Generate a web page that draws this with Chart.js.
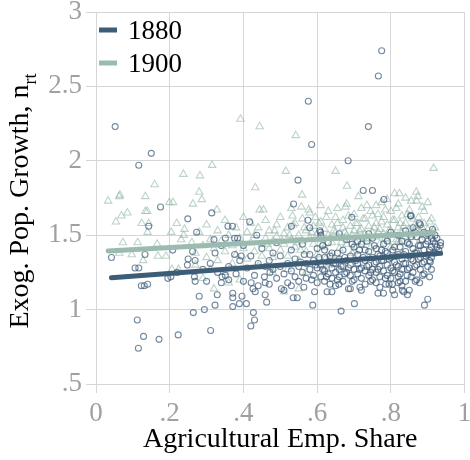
<!DOCTYPE html>
<html lang="en">
<head>
<meta charset="UTF-8">
<title>Exog. Pop. Growth vs Agricultural Emp. Share</title>
<script src="https://cdn.jsdelivr.net/npm/chart.js"></script>
<style>
  body { margin: 0; padding: 0; background: #fff; }
  canvas { display: block; }
</style>
</head>
<body>
<canvas id="growthChart" width="470" height="460"></canvas>
<script>
// series names and axis ticks
const years = ['1880', '1900'];
const xTicks = [0, 0.2, 0.4, 0.6, 0.8, 1];
const yTicks = [0.5, 1, 1.5, 2, 2.5, 3];

// 1880 observations (agri share, growth)
const pts1880 = [
  [0.052,2.23],[0.150,2.05],[0.116,1.97],[0.576,2.40],[0.585,2.11],[0.739,2.23],[0.684,2.00],[0.548,1.87],
  [0.725,1.80],[0.750,1.80],[0.775,2.74],[0.766,2.57],[0.781,1.74],[0.536,1.71],[0.853,1.63],[0.694,1.62],
  [0.175,1.69],[0.249,1.61],[0.314,1.65],[0.143,1.56],[0.273,1.52],[0.358,1.56],[0.417,1.59],[0.436,1.50],
  [0.320,1.47],[0.351,1.48],[0.376,1.48],[0.384,1.48],[0.042,1.35],[0.133,1.37],[0.106,1.28],[0.116,1.28],
  [0.123,1.16],[0.131,1.16],[0.140,1.17],[0.195,1.21],[0.203,1.22],[0.208,1.40],[0.248,1.30],[0.262,1.39],
  [0.269,1.33],[0.323,1.38],[0.376,1.37],[0.394,1.36],[0.269,1.19],[0.267,1.22],[0.342,1.22],[0.351,1.23],
  [0.360,1.20],[0.340,1.18],[0.421,1.18],[0.457,1.22],[0.459,1.18],[0.472,1.25],[0.280,1.09],[0.329,1.10],
  [0.371,1.11],[0.396,1.09],[0.371,1.08],[0.426,1.14],[0.432,1.12],[0.459,1.10],[0.463,1.05],[0.264,0.98],
  [0.294,1.00],[0.323,1.03],[0.371,1.02],[0.389,1.04],[0.408,1.04],[0.427,0.98],[0.430,0.93],[0.420,0.89],
  [0.311,0.86],[0.223,0.83],[0.171,0.80],[0.129,0.82],[0.112,0.93],[0.115,0.74],[0.588,1.03],[0.665,0.99],
  [0.701,1.04],[0.535,1.08],[0.546,1.08],[0.593,1.12],[0.627,1.12],[0.685,1.14],[0.716,1.15],[0.564,1.15],
  [0.659,1.17],[0.503,1.14],[0.786,1.17],[0.831,1.13],[0.835,1.12],[0.804,1.17],[0.820,1.18],[0.866,1.19],
  [0.844,1.23],[0.900,1.07],[0.891,1.03],[0.878,1.18],[0.886,1.23],[0.907,1.32],[0.934,1.43],[0.913,1.54],
  [0.877,1.58],[0.855,1.63],[0.609,1.52],[0.580,1.55],[0.530,1.56],[0.575,1.60],[0.607,1.53],
  [0.47,1.33],[0.48,1.27],[0.49,1.21],[0.50,1.36],[0.50,1.29],[0.51,1.24],[0.52,1.18],[0.52,1.31],
  [0.53,1.40],[0.53,1.26],[0.54,1.22],[0.54,1.34],[0.55,1.29],[0.55,1.19],[0.56,1.44],[0.56,1.25],
  [0.57,1.31],[0.57,1.21],[0.58,1.37],[0.58,1.27],[0.59,1.23],[0.59,1.33],[0.60,1.28],[0.60,1.18],
  [0.60,1.41],[0.49,1.45],[0.51,1.13],[0.53,1.16],[0.47,1.17],[0.48,1.38],
  [0.61,1.30],[0.61,1.22],[0.62,1.35],[0.62,1.26],[0.62,1.19],[0.63,1.32],[0.63,1.24],[0.63,1.45],
  [0.64,1.28],[0.64,1.21],[0.64,1.38],[0.65,1.31],[0.65,1.25],[0.65,1.16],[0.66,1.34],[0.66,1.27],
  [0.66,1.22],[0.67,1.29],[0.67,1.40],[0.67,1.19],[0.68,1.33],[0.68,1.25],[0.68,1.47],[0.69,1.30],
  [0.69,1.23],[0.69,1.36],[0.70,1.27],[0.70,1.20],[0.70,1.42],[0.61,1.50],[0.64,1.12],[0.66,1.51],
  [0.69,1.14],[0.62,1.40],
  [0.71,1.31],[0.71,1.24],[0.71,1.37],[0.72,1.28],[0.72,1.21],[0.72,1.44],[0.73,1.33],[0.73,1.26],
  [0.73,1.17],[0.74,1.30],[0.74,1.23],[0.74,1.39],[0.75,1.35],[0.75,1.27],[0.75,1.20],[0.75,1.48],
  [0.76,1.32],[0.76,1.25],[0.76,1.41],[0.77,1.29],[0.77,1.22],[0.77,1.36],[0.77,1.15],[0.78,1.33],
  [0.78,1.26],[0.78,1.44],[0.79,1.30],[0.79,1.23],[0.79,1.38],[0.80,1.35],[0.80,1.28],[0.80,1.21],
  [0.80,1.52],[0.72,1.13],[0.74,1.51],[0.76,1.18],[0.78,1.11],[0.79,1.46],[0.71,1.46],[0.73,1.40],
  [0.81,1.32],[0.81,1.25],[0.81,1.42],[0.82,1.37],[0.82,1.29],[0.82,1.22],[0.83,1.34],[0.83,1.27],
  [0.83,1.46],[0.84,1.31],[0.84,1.39],[0.84,1.19],[0.85,1.36],[0.85,1.28],[0.85,1.44],[0.86,1.33],
  [0.86,1.41],[0.86,1.25],[0.87,1.38],[0.87,1.30],[0.87,1.49],[0.88,1.35],[0.88,1.43],[0.88,1.27],
  [0.89,1.40],[0.89,1.32],[0.89,1.52],[0.90,1.37],[0.90,1.46],[0.90,1.29],[0.91,1.42],[0.91,1.35],
  [0.92,1.44],[0.92,1.38],[0.93,1.40],[0.82,1.50],[0.84,1.53],[0.86,1.55],[0.88,1.57],[0.90,1.51],
  [0.91,1.48],[0.92,1.50],[0.87,1.20],[0.83,1.16],[0.85,1.13],[0.81,1.10],[0.89,1.24],[0.91,1.27],
  [0.22,1.25],[0.25,1.34],[0.29,1.27],[0.30,1.19],[0.31,1.31],[0.33,1.25],[0.34,1.43],[0.36,1.29],
  [0.38,1.24],[0.39,1.33],[0.40,1.19],[0.40,1.43],[0.41,1.28],[0.42,1.36],[0.43,1.23],[0.44,1.31],
  [0.44,1.16],[0.45,1.41],[0.46,1.29],[0.37,1.56],
  [0.555,1.32],[0.565,1.37],[0.585,1.20],[0.595,1.30],[0.605,1.35],[0.615,1.27],[0.625,1.22],[0.635,1.36],
  [0.645,1.31],[0.655,1.20],[0.665,1.29],[0.675,1.35],[0.685,1.28],[0.695,1.19],[0.705,1.33],[0.715,1.27],
  [0.725,1.35],[0.735,1.29],[0.745,1.19],[0.755,1.31],[0.765,1.37],[0.765,1.27],[0.775,1.33],[0.785,1.21],
  [0.785,1.39],[0.795,1.34],[0.805,1.26],[0.805,1.40],[0.815,1.30],[0.815,1.36],[0.825,1.24],[0.825,1.42],
  [0.835,1.31],[0.835,1.37],[0.845,1.27],[0.845,1.45],[0.855,1.34],[0.855,1.22],[0.865,1.38],[0.865,1.29],
  [0.875,1.43],[0.875,1.34],[0.885,1.31],[0.885,1.47],[0.895,1.36],[0.895,1.44],[0.905,1.40],[0.905,1.33],
  [0.915,1.46],[0.915,1.38],[0.925,1.42],[0.775,1.40],[0.755,1.43],[0.735,1.46],[0.715,1.40],[0.695,1.44],
  [0.675,1.24],[0.655,1.38],[0.635,1.17],[0.615,1.43],[0.745,1.25],[0.795,1.17],[0.825,1.19],[0.855,1.49],
  [0.905,1.22],[0.925,1.48],[0.935,1.45],[0.865,1.52],[0.845,1.10],[0.805,1.13],[0.765,1.11]
];

// 1900 observations (agri share, growth)
const pts1900 = [
  [0.392,2.28],[0.444,2.23],[0.542,2.17],[0.515,1.93],[0.650,1.93],[0.681,1.83],[0.559,1.77],[0.712,1.76],
  [0.916,1.95],[0.823,1.78],[0.869,1.79],[0.873,1.76],[0.900,1.72],[0.609,1.70],[0.677,1.69],[0.577,1.67],
  [0.557,1.69],[0.533,1.63],[0.315,1.97],[0.282,1.90],[0.280,1.79],[0.287,1.74],[0.263,1.71],[0.328,1.67],
  [0.432,1.82],[0.444,1.67],[0.454,1.67],[0.219,1.58],[0.159,1.84],[0.065,1.77],[0.134,1.76],[0.237,1.91],
  [0.033,1.73],[0.063,1.76],[0.199,1.72],[0.209,1.72],[0.085,1.65],[0.069,1.63],[0.054,1.59],[0.134,1.66],
  [0.139,1.66],[0.124,1.58],[0.143,1.58],[0.140,1.52],[0.240,1.54],[0.204,1.52],[0.073,1.45],[0.113,1.45],
  [0.166,1.44],[0.097,1.37],[0.063,1.38],[0.168,1.36],[0.190,1.36],[0.128,1.33],[0.231,1.47],[0.238,1.50],
  [0.224,1.27],[0.206,1.27],
  [0.26,1.45],[0.27,1.38],[0.28,1.52],[0.29,1.43],[0.30,1.35],[0.30,1.57],[0.31,1.47],[0.32,1.41],
  [0.33,1.53],[0.33,1.33],[0.34,1.46],[0.35,1.39],[0.35,1.60],[0.36,1.50],[0.37,1.43],[0.37,1.31],
  [0.38,1.55],[0.38,1.37],[0.39,1.48],[0.40,1.41],[0.40,1.62],[0.41,1.52],[0.41,1.34],[0.42,1.45],
  [0.42,1.58],[0.43,1.39],[0.43,1.50],[0.44,1.29],[0.44,1.55],[0.45,1.44],[0.45,1.36],[0.46,1.60],
  [0.46,1.48],[0.29,1.21],[0.32,1.14],[0.36,1.18],[0.39,1.20],[0.31,1.27],[0.35,1.25],[0.27,1.30],
  [0.47,1.41],[0.47,1.53],[0.48,1.46],[0.48,1.35],[0.49,1.57],[0.49,1.49],[0.50,1.40],[0.50,1.62],
  [0.51,1.51],[0.51,1.44],[0.51,1.12],[0.52,1.36],[0.52,1.55],[0.53,1.47],[0.53,1.68],[0.54,1.42],
  [0.54,1.58],[0.55,1.50],[0.55,1.33],[0.55,1.14],[0.56,1.46],[0.56,1.61],[0.57,1.53],[0.57,1.39],
  [0.58,1.48],[0.58,1.65],[0.59,1.44],[0.59,1.56],[0.60,1.51],[0.60,1.37],[0.48,1.25],[0.52,1.27],
  [0.57,1.25],
  [0.61,1.47],[0.61,1.59],[0.62,1.42],[0.62,1.54],[0.63,1.50],[0.63,1.66],[0.64,1.45],[0.64,1.57],
  [0.64,1.36],[0.65,1.52],[0.65,1.62],[0.66,1.48],[0.66,1.41],[0.67,1.55],[0.67,1.60],[0.68,1.50],
  [0.68,1.44],[0.68,1.71],[0.69,1.56],[0.69,1.47],[0.70,1.53],[0.70,1.64],[0.70,1.39],[0.71,1.49],
  [0.71,1.58],[0.72,1.54],[0.72,1.45],[0.72,1.68],[0.73,1.51],[0.73,1.61],[0.74,1.47],[0.74,1.56],
  [0.74,1.35],[0.75,1.52],[0.75,1.63],[0.63,1.30],[0.66,1.33],[0.71,1.31],
  [0.76,1.49],[0.76,1.58],[0.76,1.70],[0.77,1.54],[0.77,1.44],[0.78,1.51],[0.78,1.62],[0.79,1.47],
  [0.79,1.57],[0.79,1.74],[0.80,1.53],[0.80,1.66],[0.80,1.42],[0.81,1.50],[0.81,1.60],[0.82,1.55],
  [0.82,1.46],[0.82,1.71],[0.83,1.52],[0.83,1.63],[0.84,1.49],[0.84,1.58],[0.85,1.54],[0.85,1.67],
  [0.85,1.44],[0.86,1.51],[0.86,1.61],[0.87,1.56],[0.87,1.73],[0.88,1.52],[0.88,1.47],[0.89,1.58],
  [0.89,1.66],[0.90,1.54],[0.91,1.50],[0.91,1.61],[0.92,1.55],[0.78,1.36],[0.83,1.38],[0.87,1.40],
  [0.81,1.78],[0.84,1.75],
  [0.505,1.46],[0.525,1.50],[0.545,1.45],[0.565,1.55],[0.585,1.52],[0.605,1.58],[0.615,1.44],[0.625,1.62],
  [0.635,1.48],[0.645,1.53],[0.655,1.58],[0.665,1.45],[0.675,1.52],[0.685,1.63],[0.695,1.50],[0.705,1.58],
  [0.715,1.53],[0.725,1.61],[0.735,1.48],[0.745,1.66],[0.755,1.55],[0.765,1.52],[0.765,1.64],[0.775,1.59],
  [0.785,1.48],[0.785,1.67],[0.795,1.53],[0.805,1.60],[0.815,1.47],[0.815,1.68],[0.825,1.58],[0.835,1.56],
  [0.845,1.64],[0.855,1.50],[0.865,1.57],[0.875,1.62],[0.885,1.55],[0.895,1.50],[0.905,1.59],[0.915,1.53],
  [0.775,1.72],[0.745,1.42],[0.705,1.45],[0.655,1.68],[0.595,1.62],[0.555,1.40],[0.535,1.57],[0.485,1.53],
  [0.465,1.44],[0.825,1.45],[0.885,1.69],[0.735,1.70],[0.695,1.38],[0.625,1.35],[0.855,1.73]
];

// fitted lines, end points
const fit1880 = [[0.042,1.214],[0.935,1.378]];
const fit1900 = [[0.033,1.394],[0.916,1.517]];

const colors = {
  line1880: '#3d5c76',
  line1900: '#9bbab0',
  dot1880: 'rgba(58,88,118,0.7)',
  dot1900: 'rgba(145,182,166,0.6)'
};
const serif = "'Liberation Serif', 'Times New Roman', serif";

const toXY = arr => arr.map(p => ({ x: p[0], y: p[1] }));
const fmt = v => String(v).replace(/^0\./, '.');

// y title with subscript, drawn by hand
const yTitlePlugin = {
  id: 'yTitle',
  afterDraw(chart) {
    const { ctx, chartArea } = chart;
    const main = 'Exog. Pop. Growth, n';
    const sub = 'rt';
    ctx.save();
    ctx.font = '28px ' + serif;
    const w1 = ctx.measureText(main).width;
    ctx.font = '18px ' + serif;
    const w2 = ctx.measureText(sub).width;
    const cy = (chartArea.top + chartArea.bottom) / 2 + 3;
    ctx.translate(28, cy);
    ctx.rotate(-Math.PI / 2);
    ctx.fillStyle = '#000';
    ctx.textBaseline = 'alphabetic';
    ctx.textAlign = 'left';
    const start = -(w1 + w2) / 2;
    ctx.font = '28px ' + serif;
    ctx.fillText(main, start, 0);
    ctx.font = '18px ' + serif;
    ctx.fillText(sub, start + w1, 8);
    ctx.restore();
  }
};

// legend inside the plot, top left
const legendPlugin = {
  id: 'innerLegend',
  afterDraw(chart) {
    const { ctx, chartArea } = chart;
    const swatch = [colors.line1880, colors.line1900];
    ctx.save();
    ctx.font = '27px ' + serif;
    ctx.textBaseline = 'middle';
    years.forEach((yr, i) => {
      const y = chartArea.top + 18 + i * 33;
      ctx.strokeStyle = swatch[i];
      ctx.lineWidth = 5;
      ctx.beginPath();
      ctx.moveTo(chartArea.left + 3, y);
      ctx.lineTo(chartArea.left + 21, y);
      ctx.stroke();
      ctx.fillStyle = '#000';
      ctx.fillText(yr, chartArea.left + 32, y + 2);
    });
    ctx.restore();
  }
};

const ctx = document.getElementById('growthChart').getContext('2d');
new Chart(ctx, {
  type: 'scatter',
  data: {
    datasets: [
      {
        label: years[0] + ' fit', type: 'line', data: toXY(fit1880), order: 0,
        borderColor: colors.line1880, borderWidth: 5, pointRadius: 0, fill: false, borderCapStyle: 'round'
      },
      {
        label: years[1] + ' fit', type: 'line', data: toXY(fit1900), order: 1,
        borderColor: colors.line1900, borderWidth: 5, pointRadius: 0, fill: false, borderCapStyle: 'round'
      },
      {
        label: years[0], data: toXY(pts1880), order: 2,
        pointStyle: 'circle', pointRadius: 3, borderWidth: 1.1,
        borderColor: colors.dot1880, backgroundColor: 'transparent'
      },
      {
        label: years[1], data: toXY(pts1900), order: 3,
        pointStyle: 'triangle', pointRadius: 4.3, borderWidth: 1.1,
        borderColor: colors.dot1900, backgroundColor: 'transparent'
      }
    ]
  },
  options: {
    responsive: false,
    animation: false,
    events: [],
    devicePixelRatio: 1,
    layout: { padding: { top: 12, right: 2, left: 0, bottom: 0 } },
    plugins: { legend: { display: false }, tooltip: { enabled: false } },
    scales: {
      x: {
        type: 'linear', min: 0, max: 1,
        afterBuildTicks: s => { s.ticks = xTicks.map(v => ({ value: v })); },
        afterFit: s => { s.height = 76; s.paddingLeft = 0; s.paddingRight = 0; },
        grid: { color: '#d6d6d6', tickLength: 9 },
        border: { display: false },
        ticks: { color: '#a0a0a0', font: { family: serif, size: 27 }, padding: 5, maxRotation: 0, callback: v => fmt(v) },
        title: { display: true, text: 'Agricultural Emp. Share', color: '#000', font: { family: serif, size: 28 }, padding: { top: 0, bottom: 4 } }
      },
      y: {
        type: 'linear', min: 0.5, max: 3,
        afterBuildTicks: s => { s.ticks = yTicks.map(v => ({ value: v })); },
        afterFit: s => { s.width = 96; s.paddingTop = 0; s.paddingBottom = 0; },
        grid: { color: '#d6d6d6', tickLength: 10 },
        border: { display: false },
        ticks: { color: '#a0a0a0', font: { family: serif, size: 27 }, padding: 4, callback: v => fmt(v) }
      }
    }
  },
  plugins: [yTitlePlugin, legendPlugin]
});
</script>
</body>
</html>
